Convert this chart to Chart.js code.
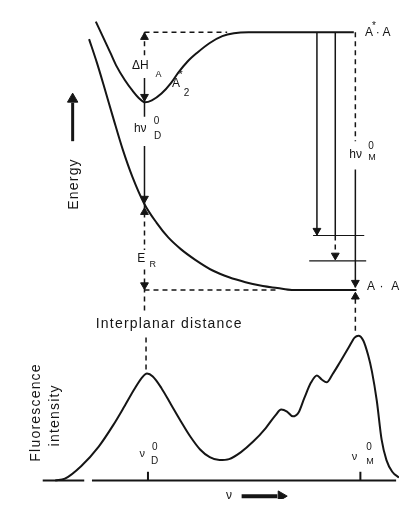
<!DOCTYPE html>
<html>
<head>
<meta charset="utf-8">
<script src="https://cdn.jsdelivr.net/npm/chart.js@4.4.1/dist/chart.umd.min.js"></script>
<style>
  html, body { margin: 0; padding: 0; background: #fff; }
  #wrap { width: 406px; height: 506px; }
</style>
</head>
<body>
<div id="wrap"><canvas id="excimerChart" width="406" height="506"></canvas></div>
<script>
// x  : interplanar distance (top) / wavenumber (bottom), arbitrary units
// yE : potential energy, arbitrary units (A.A ground level = 0)
// yI : fluorescence intensity, normalised to the monomer peak

// excimer potential A2* (upper curve)
const excimerR = [2.30, 2.50, 2.675, 2.825, 3.05, 3.25, 3.425, 3.575, 3.75, 4.00, 4.25, 4.425, 4.675, 4.925, 5.25, 5.575, 5.875, 6.25, 8.98];
const excimerE = [11.04, 10.36, 9.76, 9.24, 8.64, 8.20, 7.88, 7.72, 7.80, 8.08, 8.52, 8.92, 9.40, 9.76, 10.16, 10.44, 10.56, 10.60, 10.60];

// repulsive ground state A.A (lower curve)
const groundR = [2.125, 2.325, 2.50, 2.75, 3.00, 3.25, 3.55, 3.875, 4.175, 4.50, 4.875, 5.325, 5.75, 6.175, 6.625, 7.00, 7.375, 9.05];
const groundE = [10.32, 9.36, 8.44, 7.08, 5.76, 4.64, 3.56, 2.76, 2.16, 1.68, 1.24, 0.80, 0.52, 0.32, 0.16, 0.08, 0.00, 0.00];

// fluorescence spectrum
const nu = [1.25, 1.5, 1.925, 2.375, 2.75, 3.05, 3.30, 3.50, 3.625, 3.775, 4.00, 4.25, 4.50, 4.75, 5.00, 5.25, 5.50, 5.75, 6.05, 6.375, 6.70, 6.95, 7.10, 7.25, 7.40, 7.55, 7.70, 7.875, 8.025, 8.15, 8.275, 8.425, 8.625, 8.85, 9.00, 9.10, 9.225, 9.35, 9.45, 9.575, 9.70, 9.825, 9.975, 10.15];
const intensity = [0, 0.013, 0.10, 0.233, 0.38, 0.513, 0.627, 0.707, 0.733, 0.713, 0.633, 0.52, 0.407, 0.30, 0.213, 0.16, 0.14, 0.147, 0.193, 0.267, 0.36, 0.447, 0.487, 0.473, 0.44, 0.467, 0.567, 0.673, 0.72, 0.693, 0.673, 0.727, 0.813, 0.913, 0.98, 0.993, 0.96, 0.86, 0.747, 0.547, 0.28, 0.14, 0.06, 0.02];

// levels and transitions
const levelAstarA = 10.6;
const levelAA = 0;
const excimerMin = 7.72;
const crossD = 3.56;                 // ground curve under excimer minimum
const rD = 3.56;                     // excimer equilibrium distance
const rMono = [8.025, 8.5, 9.02];    // monomer emission lines
const monoLow = [2.24, 1.20];        // vibrational levels of ground monomer
const tickNu = [3.65, 9.15];         // nu_D^0 and nu_M^0

const ink = '#151515';

function pts(xs, ys) { return xs.map((x, i) => ({ x: x, y: ys[i] })); }

function seg(x1, y1, x2, y2, axis, dash, width) {
  return {
    data: [{ x: x1, y: y1 }, { x: x2, y: y2 }],
    yAxisID: axis, showLine: true, pointRadius: 0,
    borderColor: ink, borderWidth: width || 1.5,
    borderDash: dash ? [5, 4] : []
  };
}

function heads(list, axis, rot, r) {
  return {
    data: list, yAxisID: axis, showLine: false,
    pointStyle: 'triangle', rotation: rot, pointRadius: r || 4.5,
    backgroundColor: ink, borderColor: ink, borderWidth: 1
  };
}

const datasets = [
  { data: pts(excimerR, excimerE), yAxisID: 'yE', showLine: true, pointRadius: 0,
    borderColor: ink, borderWidth: 2, cubicInterpolationMode: 'monotone' },
  { data: pts(groundR, groundE), yAxisID: 'yE', showLine: true, pointRadius: 0,
    borderColor: ink, borderWidth: 2, cubicInterpolationMode: 'monotone' },
  { data: pts(nu, intensity), yAxisID: 'yI', showLine: true, pointRadius: 0,
    borderColor: ink, borderWidth: 2, cubicInterpolationMode: 'monotone' },

  // dashed levels
  seg(rD, levelAstarA, 5.7, levelAstarA, 'yE', true),
  seg(rD, levelAA, 7.0, levelAA, 'yE', true),

  // dimer column: dH_A, hv_D, E_R
  seg(rD, levelAstarA, rD, 9.52, 'yE', true),
  seg(rD, 8.72, rD, excimerMin, 'yE', false),
  seg(rD, excimerMin, rD, 7.12, 'yE', false),
  seg(rD, 5.92, rD, crossD, 'yE', false),
  seg(rD, crossD, rD, 1.64, 'yE', true),
  seg(rD, 0.84, rD, -1.0, 'yE', true),
  seg(3.6, 0.98, 3.6, 0.74, 'yI', true),

  // monomer column
  seg(rMono[0], levelAstarA, rMono[0], monoLow[0], 'yE', false),
  seg(rMono[1], levelAstarA, rMono[1], monoLow[0], 'yE', false),
  seg(rMono[1], monoLow[0], rMono[1], monoLow[1], 'yE', true),
  seg(rMono[2], levelAstarA, rMono[2], 6.12, 'yE', true),
  seg(rMono[2], 4.96, rMono[2], 0.1, 'yE', false),
  seg(rMono[2], -0.36, rMono[2], -1.76, 'yE', true),
  seg(7.925, monoLow[0], 9.25, monoLow[0], 'yE', false, 1.2),
  seg(7.825, monoLow[1], 9.3, monoLow[1], 'yE', false, 1.2),

  // energy arrow
  seg(1.7, 6.12, 1.7, 7.7, 'yE', false, 3),
  heads([{ x: 1.7, y: 7.85 }], 'yE', 0, 6),

  // spectrum axis and ticks
  seg(0.925, 0, 2.0, 0, 'yI', false, 2),
  seg(2.2, 0, 10.075, 0, 'yI', false, 2),
  seg(tickNu[0], 0, tickNu[0], 0.06, 'yI', false, 2),
  seg(tickNu[1], 0, tickNu[1], 0.06, 'yI', false, 2),
  seg(6.075, -0.107, 7.0, -0.107, 'yI', false, 4),
  heads([{ x: 7.1, y: -0.107 }], 'yI', 90, 6),

  // arrowheads
  heads([{ x: rD, y: 10.4 }, { x: rD, y: 3.2 }, { x: rMono[2], y: -0.28 }], 'yE', 0),
  heads([{ x: rD, y: 7.95 }, { x: rD, y: 3.76 }, { x: rD, y: 0.2 },
         { x: rMono[0], y: 2.44 }, { x: rMono[1], y: 1.42 }, { x: rMono[2], y: 0.3 }], 'yE', 180)
];

// text annotations, anchored in data units
const notes = [
  { t: 'Energy', x: 1.75, y: 4.36, ax: 'yE', size: 14, rot: -90 },
  { t: 'Interplanar distance', x: 4.2, y: -1.4, ax: 'yE', size: 14 },
  { t: 'Fluorescence', x: 0.75, y: 0.467, ax: 'yI', size: 14, rot: -90 },
  { t: 'intensity', x: 1.25, y: 0.447, ax: 'yI', size: 14, rot: -90 },
  { t: 'ΔH', x: 3.45, y: 9.24, ax: 'yE', size: 12 },
  { t: 'A', x: 3.925, y: 8.88, ax: 'yE', size: 9 },
  { t: 'A', x: 4.375, y: 8.48, ax: 'yE', size: 12 },
  { t: '2', x: 4.65, y: 8.08, ax: 'yE', size: 10 },
  { t: '*', x: 4.5, y: 8.84, ax: 'yE', size: 10 },
  { t: 'hν', x: 3.45, y: 6.64, ax: 'yE', size: 12 },
  { t: '0', x: 3.875, y: 6.92, ax: 'yE', size: 10 },
  { t: 'D', x: 3.9, y: 6.32, ax: 'yE', size: 10 },
  { t: 'E', x: 3.475, y: 1.28, ax: 'yE', size: 12 },
  { t: 'R', x: 3.775, y: 1.04, ax: 'yE', size: 9 },
  { t: 'hν', x: 9.025, y: 5.56, ax: 'yE', size: 12 },
  { t: '0', x: 9.425, y: 5.92, ax: 'yE', size: 10 },
  { t: 'M', x: 9.45, y: 5.44, ax: 'yE', size: 9 },
  { t: 'A', x: 9.375, y: 10.6, ax: 'yE', size: 12 },
  { t: '*', x: 9.5, y: 10.84, ax: 'yE', size: 10 },
  { t: '·', x: 9.6, y: 10.6, ax: 'yE', size: 12 },
  { t: 'A', x: 9.825, y: 10.6, ax: 'yE', size: 12 },
  { t: 'A', x: 9.425, y: 0.12, ax: 'yE', size: 12 },
  { t: '·', x: 9.7, y: 0.12, ax: 'yE', size: 12 },
  { t: 'A', x: 10.05, y: 0.12, ax: 'yE', size: 12 },
  { t: 'ν', x: 3.5, y: 0.18, ax: 'yI', size: 11 },
  { t: '0', x: 3.825, y: 0.227, ax: 'yI', size: 10 },
  { t: 'D', x: 3.825, y: 0.133, ax: 'yI', size: 10 },
  { t: 'ν', x: 9.0, y: 0.16, ax: 'yI', size: 11 },
  { t: '0', x: 9.375, y: 0.227, ax: 'yI', size: 10 },
  { t: 'M', x: 9.4, y: 0.133, ax: 'yI', size: 9 },
  { t: 'ν', x: 5.75, y: -0.107, ax: 'yI', size: 12 }
];

const notePlugin = {
  id: 'notes',
  afterDatasetsDraw(chart) {
    const ctx = chart.ctx;
    notes.forEach(n => {
      const px = chart.scales.x.getPixelForValue(n.x);
      const py = chart.scales[n.ax].getPixelForValue(n.y);
      ctx.save();
      ctx.translate(px, py);
      if (n.rot) ctx.rotate(n.rot * Math.PI / 180);
      ctx.font = n.size + 'px "Liberation Sans", Arial, sans-serif';
      if (n.size >= 14) ctx.letterSpacing = '1.2px';
      ctx.fillStyle = ink;
      ctx.textAlign = 'center';
      ctx.textBaseline = 'middle';
      ctx.fillText(n.t, 0, 0);
      ctx.restore();
    });
  }
};

const ctx = document.getElementById('excimerChart').getContext('2d');
new Chart(ctx, {
  type: 'scatter',
  data: { datasets: datasets },
  options: {
    responsive: false,
    animation: false,
    layout: { padding: 0 },
    plugins: { legend: { display: false }, tooltip: { enabled: false } },
    scales: {
      x: { type: 'linear', min: 0, max: 10.15, display: false },
      yE: { type: 'linear', min: -8.6, max: 11.64, display: false },
      yI: { type: 'linear', min: -0.126667, max: 3.246667, display: false }
    }
  },
  plugins: [notePlugin]
});
</script>
</body>
</html>
